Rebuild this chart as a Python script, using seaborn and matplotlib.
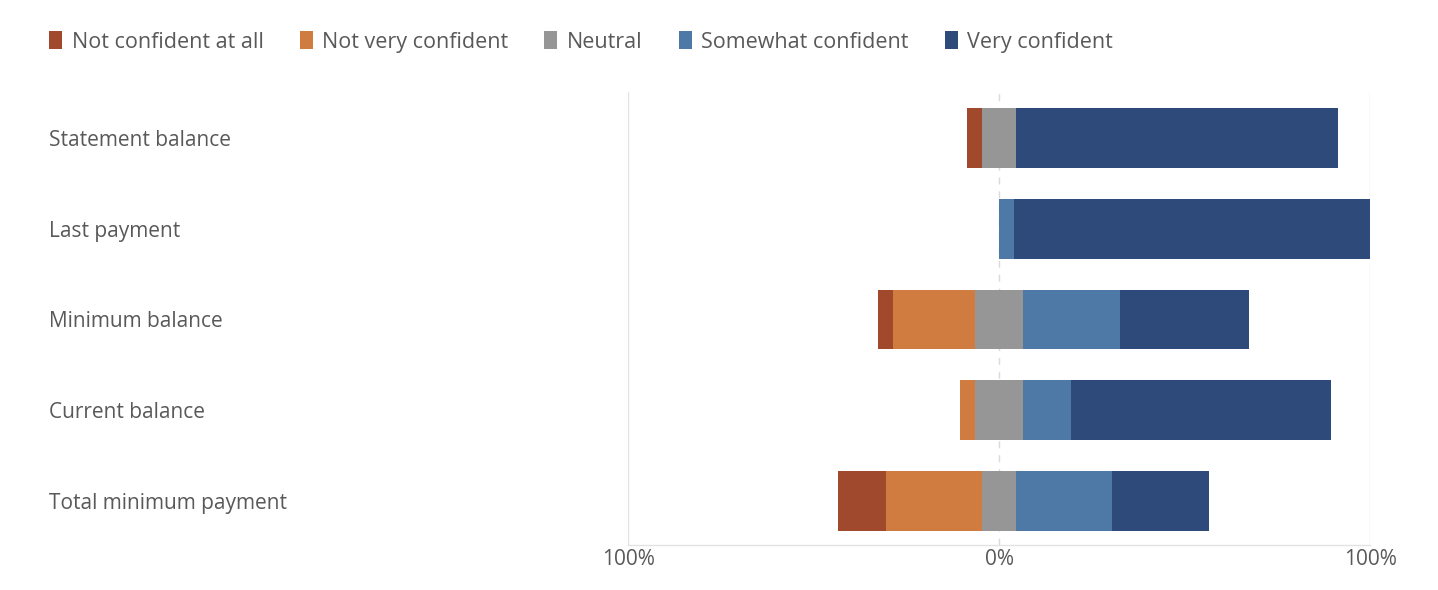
import numpy as np
import pandas as pd
import matplotlib
matplotlib.use("Agg")
import matplotlib.pyplot as plt
import seaborn as sns

QUESTIONS = ["Statement balance", "Last payment", "Minimum balance",
             "Current balance", "Total minimum payment"]
LEVELS = ["Not confident at all", "Not very confident", "Neutral",
          "Somewhat confident", "Very confident"]
NOT_AT_ALL = [4, 0, 4, 0, 13]
NOT_VERY = [0, 0, 22, 4, 26]
NEUTRAL = [9, 0, 13, 13, 9]
SOMEWHAT = [0, 4, 26, 13, 26]
VERY = [87, 96, 35, 70, 26]
COLORS = ["#A0492D", "#D07B3F", "#969696", "#4E79A7", "#2D4A7A"]

TEXT = "#595959"


def main():
    sns.set_theme(style="white")
    plt.rcParams["font.family"] = ["Open Sans", "DejaVu Sans"]

    df = pd.DataFrame({"Question": QUESTIONS,
                       LEVELS[0]: NOT_AT_ALL, LEVELS[1]: NOT_VERY,
                       LEVELS[2]: NEUTRAL, LEVELS[3]: SOMEWHAT,
                       LEVELS[4]: VERY})
    vals = df[LEVELS].to_numpy(dtype=float)
    # diverging: neutral split across zero
    start = -(vals[:, 0] + vals[:, 1] + vals[:, 2] / 2)
    lefts = start[:, None] + np.concatenate(
        [np.zeros((len(df), 1)), np.cumsum(vals, axis=1)[:, :-1]], axis=1)

    fig = plt.figure(figsize=(14.38, 5.9), dpi=100)
    ax = fig.add_axes([628 / 1438, 1 - 545 / 590, 742 / 1438, 453 / 590])

    for i, lvl in enumerate(LEVELS):
        sub = pd.DataFrame({"Question": QUESTIONS, "value": vals[:, i]})
        sns.barplot(data=sub, y="Question", x="value", orient="y",
                    order=QUESTIONS, color=COLORS[i], width=0.66,
                    left=lefts[:, i], linewidth=0, saturation=1,
                    label=lvl, ax=ax)

    ax.set_xlim(-100, 100)
    ax.set_ylim(4.49, -0.51)
    ax.axvline(-100, color="#E3E3E3", lw=1, zorder=0)
    ax.axvline(100, color="#E3E3E3", lw=1, zorder=0)
    ax.axvline(0, color="#DADADA", lw=1, ls=(0, (5, 5)), zorder=0)

    for s in ["top", "left", "right"]:
        ax.spines[s].set_visible(False)
    ax.spines["bottom"].set_color("#E3E3E3")
    ax.spines["bottom"].set_linewidth(1)

    ax.set_xticks([-100, 0, 100])
    ax.set_xticklabels(["100%", "0%", "100%"])
    ax.tick_params(axis="x", length=0, pad=3, labelsize=15, labelcolor=TEXT)
    ax.tick_params(axis="y", length=0, pad=(628 - 49) * 0.72,
                   labelsize=15, labelcolor=TEXT)
    for lbl in ax.get_yticklabels():
        lbl.set_ha("left")
    ax.set_xlabel("")
    ax.set_ylabel("")

    handles, labels = ax.get_legend_handles_labels()
    if ax.get_legend() is not None:
        ax.get_legend().remove()
    fig.legend(handles, labels, loc="center left",
               bbox_to_anchor=(30 / 1438, 1 - 42 / 590), ncol=5,
               frameon=False, fontsize=15.5, labelcolor=TEXT,
               handlelength=0.6, handleheight=0.9, handletextpad=0.45,
               columnspacing=1.67)

    fig.savefig("out.png", dpi=100)
    plt.close(fig)


if __name__ == "__main__":
    main()
